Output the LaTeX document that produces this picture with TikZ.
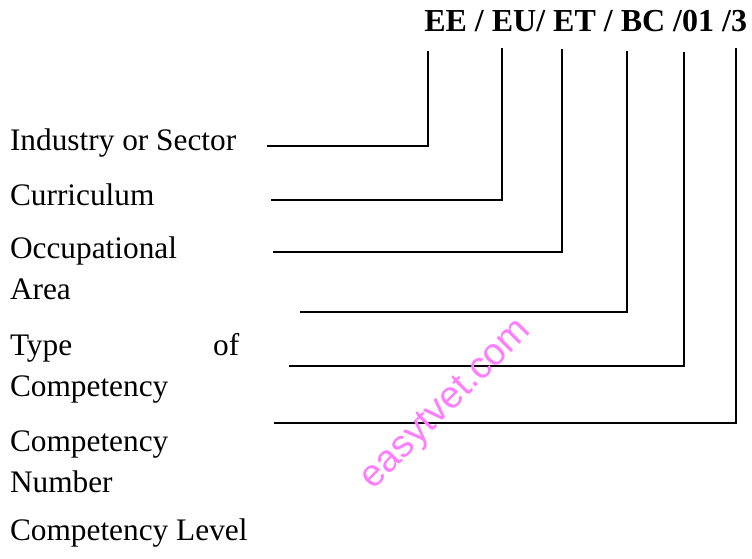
\documentclass[tikz,border=0pt]{standalone}
\usepackage{fontspec}
\setmainfont{Liberation Serif}
\newfontfamily\wmfont{Liberation Sans}
\usetikzlibrary{positioning}
\definecolor{wmpink}{RGB}{255,125,255}

\begin{document}
\begin{tikzpicture}[x=0.75pt,y=-0.75pt,every node/.style={inner sep=0,outer sep=0},
    lbl/.style={anchor=base west,font=\fontsize{23.5}{30.75}\selectfont},
    leader/.style={line width=1.5pt}]
      \useasboundingbox (0,0) rectangle (752,558);
      \node(code)[anchor=base east,font=\fontsize{24}{28}\selectfont\bfseries] at (747,31.7) {EE / EU/ ET / BC /01 /3};

      \node(ind)[lbl] at (10,150) {Industry or Sector\strut};
      \node(cur)[lbl] at (10,205) {Curriculum\strut};
      \node(occ)[lbl] at (10,258) {Occupational\strut};
      \node(area)[lbl,below=0mm of occ.south west,anchor=north west]{Area\strut};
      \node(type)[lbl] at (10,355) {\makebox[172pt][s]{Type of}\strut};
      \node(ctype)[lbl,below=0mm of type.south west,anchor=north west]{Competency\strut};
      \node(cnum)[lbl] at (10,451.7) {Competency\strut};
      \node(num)[lbl,below=0mm of cnum.south west,anchor=north west]{Number\strut};
      \node(lev)[lbl] at (10,540) {Competency Level\strut};

      \coordinate(ee top) at (428.3,50.7);
      \coordinate(eu top) at (501.7,48.3);
      \coordinate(et top) at (561.7,49.3);
      \coordinate(bc top) at (627.3,50.7);
      \coordinate(no top) at (684.3,51.7);
      \coordinate(lv top) at (736,48.3);

      \coordinate(ind end) at (267,145.7);
      \coordinate(cur end) at (271,200);
      \coordinate(occ end) at (272.7,251.7);
      \coordinate(type end) at (299.5,312.3);
      \coordinate(num end) at (288.7,365.7);
      \coordinate(lev end) at (273.7,422.7);

      \draw[leader](ee top) |- (ind end);
      \draw[leader](eu top) |- (cur end);
      \draw[leader](et top) |- (occ end);
      \draw[leader](bc top) |- (type end);
      \draw[leader](no top) |- (num end);
      \draw[leader](lv top) |- (lev end);

      \node(wm)[rotate=45,text=wmpink,font=\wmfont\fontsize{28.5}{30}\selectfont] at (447,405) {easytvet.com};
\end{tikzpicture}
\end{document}
